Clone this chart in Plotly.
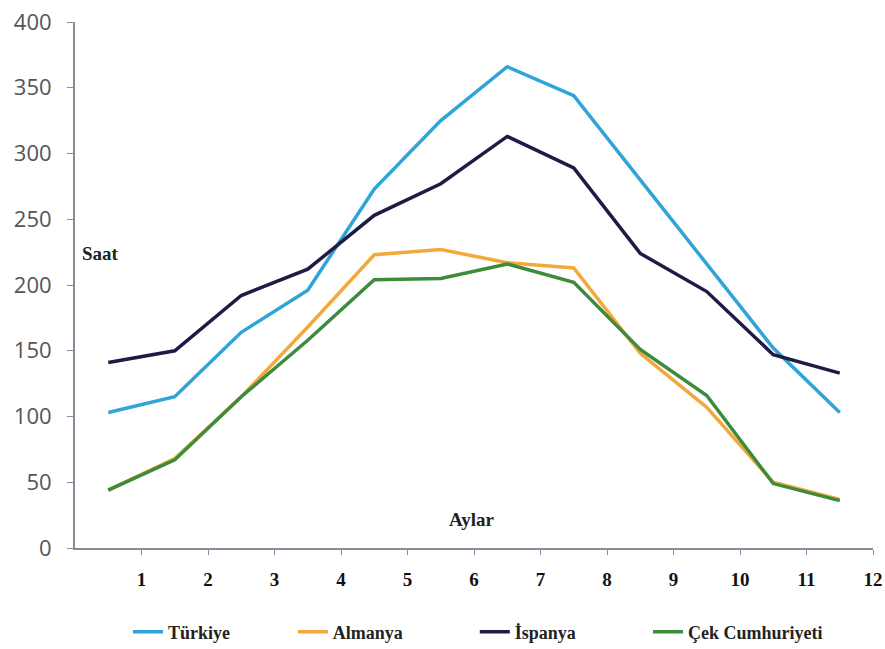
import plotly.graph_objects as go

months = [1, 2, 3, 4, 5, 6, 7, 8, 9, 10, 11, 12]
tick_labels = ["1", "2", "3", "4", "5", "6", "7", "8", "9", "10", "11", "12"]

turkiye = [103, 115, 164, 196, 273, 325, 366, 344, 280, 216, 152, 103]
almanya = [44, 68, 115, 168, 223, 227, 217, 213, 148, 107, 50, 37]
ispanya = [141, 150, 192, 212, 253, 277, 313, 289, 224, 195, 147, 133]
cek = [44, 67, 115, 158, 204, 205, 216, 202, 151, 116, 49, 36]

series = [
    ("Türkiye", turkiye, "#2FA4D7"),
    ("Almanya", almanya, "#F2A93B"),
    ("İspanya", ispanya, "#1E1B46"),
    ("Çek Cumhuriyeti", cek, "#3C8C3C"),
]
legend_x = [0.0664, 0.273, 0.501, 0.718]

# points sit in the middle of each month interval
xpos = [m - 0.5 for m in months]

serif = "Liberation Serif, Times New Roman, serif"

fig = go.Figure()
legends = {}
for i, (name, vals, col) in enumerate(series):
    lg = "legend" if i == 0 else f"legend{i + 1}"
    fig.add_trace(go.Scatter(x=xpos, y=vals, mode="lines", name=name,
                             line=dict(color=col, width=3.5), legend=lg))
    legends[lg] = dict(x=legend_x[i], xanchor="left", y=-0.16, yanchor="middle",
                       orientation="h", bgcolor="rgba(0,0,0,0)",
                       font=dict(family=serif, size=18, color="#222", weight="bold"))

fig.update_layout(
    width=885, height=649,
    margin=dict(l=75, r=12, t=22, b=101, autoexpand=False),
    paper_bgcolor="white", plot_bgcolor="white",
    showlegend=True,
    xaxis=dict(range=[0, 12], tickmode="array", tickvals=months, ticktext=tick_labels,
               showgrid=False, zeroline=False, showline=True, linecolor="#8a8a99",
               linewidth=2, ticks="outside", ticklen=5, tickcolor="#8a8a99",
               tickfont=dict(family=serif, size=19, color="#111", weight="bold"),
               ticklabelstandoff=8, automargin=False),
    yaxis=dict(range=[0, 400], tickvals=[0, 50, 100, 150, 200, 250, 300, 350, 400],
               showgrid=False, zeroline=False, showline=True, linecolor="#8a8a99",
               linewidth=2, ticks="outside", ticklen=6, tickcolor="#8a8a99",
               tickfont=dict(family="Open Sans, sans-serif", size=22, color="#555"),
               ticklabelstandoff=11, automargin=False),
    annotations=[
        dict(text="<b>Saat</b>", x=0.075, y=224, xref="x", yref="y", xanchor="left",
             yanchor="middle", showarrow=False,
             font=dict(family=serif, size=19, color="#222")),
        dict(text="<b>Aylar</b>", x=5.97, y=22, xref="x", yref="y", xanchor="center",
             yanchor="middle", showarrow=False,
             font=dict(family=serif, size=19, color="#222")),
    ],
    **legends,
)

fig.write_html("out.html")
